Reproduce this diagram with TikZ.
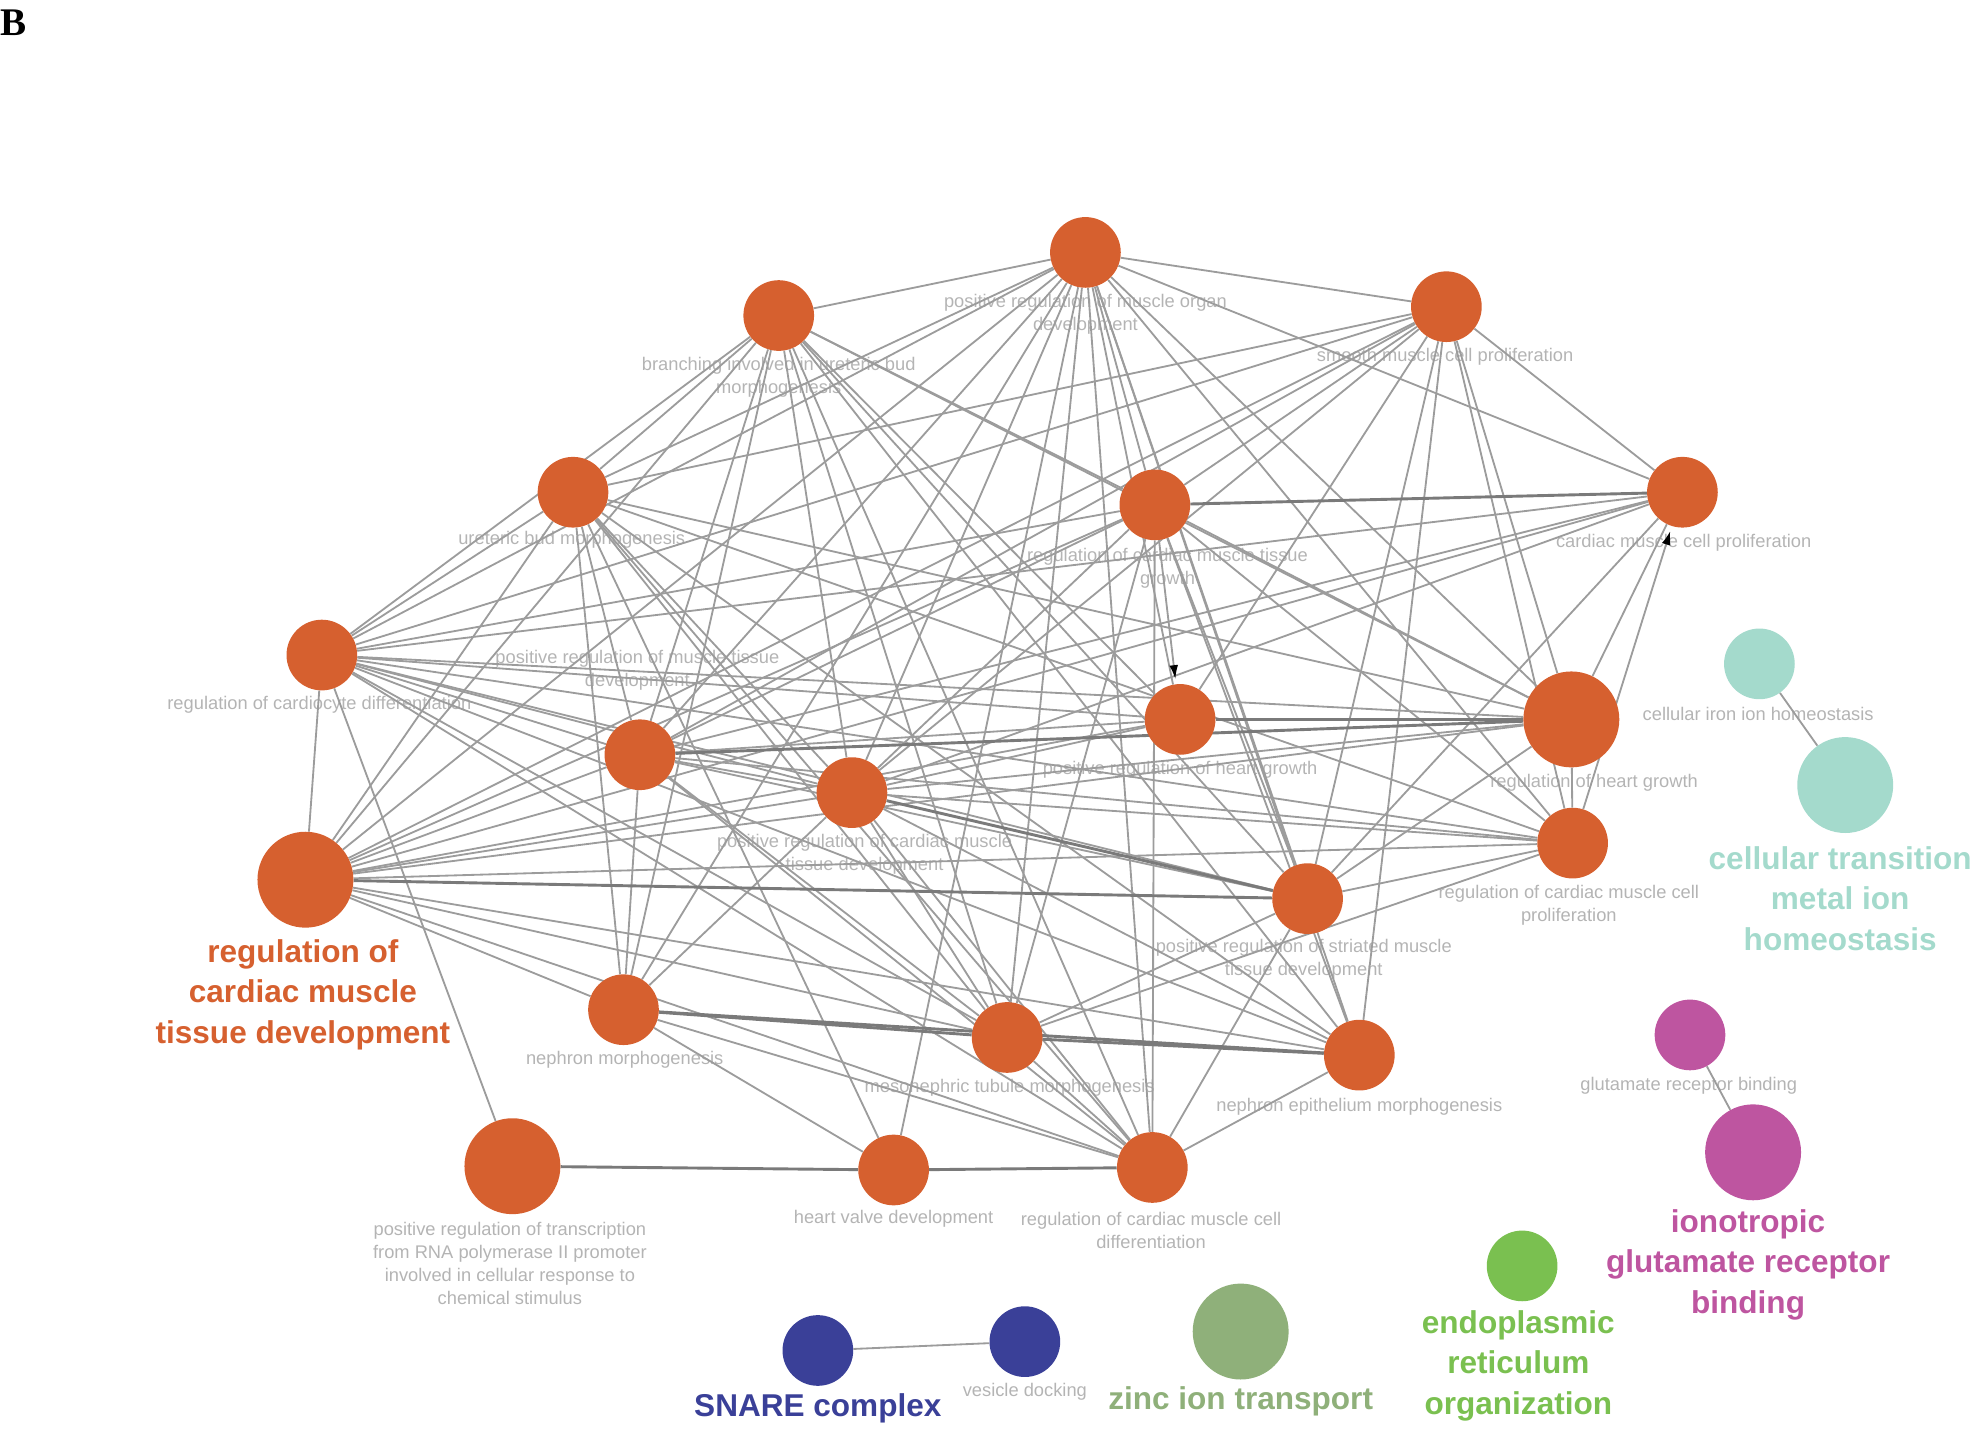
\documentclass[tikz,border=0pt]{standalone}
\usepackage{fontspec}
\setmainfont{Liberation Sans}
\newfontfamily\serifB{Liberation Serif}
\usetikzlibrary{arrows.meta}
\definecolor{orng}{HTML}{D6602F}
\definecolor{teal2}{HTML}{A4DACC}
\definecolor{mag}{HTML}{BE55A0}
\definecolor{grn}{HTML}{7AC050}
\definecolor{olv}{HTML}{8FB07A}
\definecolor{blu}{HTML}{3A4098}
\definecolor{labgray}{HTML}{B4B4B4}
\definecolor{edgegray}{HTML}{9C9C9C}
\definecolor{edgedark}{HTML}{7A7A7A}
\pgfdeclarelayer{lbl}
\pgfdeclarelayer{edg}
\pgfsetlayers{lbl,edg,main}
\tikzset{
  nd/.style={circle, inner sep=0pt, minimum size=56pt, fill=orng},
  ndl/.style={circle, inner sep=0pt, minimum size=76pt, fill=orng},
  lab/.style={text=labgray, font=\fontsize{14.5}{18}\selectfont, align=center, inner sep=0pt},
  big/.style={font=\bfseries\fontsize{25}{32}\selectfont, align=center, inner sep=0pt},
  ed/.style={draw=edgegray, line width=1.45pt},
  edd/.style={draw=edgedark, line width=2.3pt},
  arr/.style={draw=edgegray, line width=1.45pt, -{Latex[length=11pt,width=7pt,color=black]}, shorten >=4pt}
}
\begin{document}
\begin{tikzpicture}[x=1pt,y=-1pt]
\useasboundingbox (0,0) rectangle (1568,1132);
\node[font=\serifB\bfseries\fontsize{31}{31}\selectfont, anchor=west, inner sep=0pt] (fig) at (0,18) {B};

% orange cluster nodes
\node[nd] (a) at (860,200) {};
\node[nd] (b) at (617,250) {};
\node[nd] (c) at (1146,243) {};
\node[nd] (d) at (454,390) {};
\node[nd] (e) at (915,400) {};
\node[nd] (f) at (1333,390) {};
\node[nd] (g) at (255,519) {};
\node[nd] (h) at (507,598) {};
\node[nd] (i) at (675,628) {};
\node[nd] (j) at (935,570) {};
\node[ndl] (k) at (1245,570) {};
\node[nd] (l) at (1246,668) {};
\node[nd] (m) at (1036,712) {};
\node[ndl] (n) at (242,697) {};
\node[nd] (o) at (494,800) {};
\node[nd] (p) at (798,822) {};
\node[nd] (q) at (1077,836) {};
\node[ndl] (r) at (406,924) {};
\node[nd] (s) at (708,927) {};
\node[nd] (t) at (913,925) {};

% other groups
\node[nd, fill=teal2] (ta) at (1394,526) {};
\node[ndl, fill=teal2] (tb) at (1462,622) {};
\node[nd, fill=mag] (ma) at (1339,820) {};
\node[ndl, fill=mag] (mb) at (1389,913) {};
\node[nd, fill=grn] (en) at (1206,1003) {};
\node[ndl, fill=olv] (zn) at (983,1055) {};
\node[nd, fill=blu] (sn) at (648,1070) {};
\node[nd, fill=blu] (vd) at (812,1063) {};

\begin{pgfonlayer}{lbl}
\node[lab] (la) at (860,249) {positive regulation of muscle organ\\development};
\node[lab] (lb) at (617,299) {branching involved in ureteric bud\\morphogenesis};
\node[lab] (lc) at (1145,283) {smooth muscle cell proliferation};
\node[lab] (ld) at (453,428) {ureteric bud morphogenesis};
\node[lab] (le) at (925,450) {regulation of cardiac muscle tissue\\growth};
\node[lab] (lf) at (1334,430) {cardiac muscle cell proliferation};
\node[lab] (lg) at (253,558) {regulation of cardiocyte differentiation};
\node[lab] (lh) at (505,531) {positive regulation of muscle tissue\\development};
\node[lab] (lj) at (935,610) {positive regulation of heart growth};
\node[lab] (lk) at (1263,620) {regulation of heart growth};
\node[lab] (li) at (685,677) {positive regulation of cardiac muscle\\tissue development};
\node[lab] (ll) at (1243,717) {regulation of cardiac muscle cell\\proliferation};
\node[lab] (lm) at (1033,760) {positive regulation of striated muscle\\tissue development};
\node[lab] (lo) at (495,840) {nephron morphogenesis};
\node[lab] (lp) at (800,862) {mesonephric tubule morphogenesis};
\node[lab] (lq) at (1077,877) {nephron epithelium morphogenesis};
\node[lab] (lr) at (404,1001) {positive regulation of transcription\\from RNA polymerase II promoter\\involved in cellular response to\\chemical stimulus};
\node[lab] (ls) at (708,966) {heart valve development};
\node[lab] (lt) at (912,975) {regulation of cardiac muscle cell\\differentiation};
\node[lab] (lta) at (1393,566) {cellular iron ion homeostasis};
\node[lab] (lma) at (1338,860) {glutamate receptor binding};
\node[lab] (lvd) at (812,1103) {vesicle docking};
\end{pgfonlayer}

\begin{pgfonlayer}{edg}
\foreach \u/\v in {a/b,a/c,a/f,a/d,a/g,a/n,a/h,a/i,a/j,a/e,a/t,a/p,a/s,a/m,a/q,a/k,a/l,a/o,
  b/d,b/g,b/n,b/h,b/i,b/o,b/p,b/t,b/q,b/m,b/e,b/j,b/k,
  c/f,c/d,c/g,c/e,c/h,c/i,c/k,c/l,c/m,c/j,c/n,c/q,
  d/g,d/n,d/h,d/o,d/p,d/t,d/q,d/i,d/s,d/k,d/l,
  e/k,e/l,e/m,e/n,e/g,e/h,e/i,e/p,e/t,e/q,
  f/k,f/i,f/h,f/n,f/g,f/m,
  g/n,g/h,g/i,g/k,g/l,g/m,g/p,g/t,g/q,g/r,g/j,
  h/n,h/i,h/l,h/m,h/o,h/p,h/t,
  i/n,i/k,i/l,i/o,i/p,i/q,i/t,
  j/n,j/i,j/h,
  k/l,k/n,k/m,
  l/n,l/m,l/p,
  m/t,m/p,
  n/o,n/p,n/t,n/q,
  o/t,o/s,
  p/t,q/t,
  ta/tb,ma/mb,sn/vd}
  \draw[ed] (\u) -- (\v);
\foreach \u/\v in {o/q,o/p,p/q,r/s,s/t,i/m,h/k,e/f,n/m,j/k}
  \draw[edd] (\u) -- (\v);
\draw[arr] (e) -- (j);
\draw[arr] (l) -- (f);
\end{pgfonlayer}

% big labels
\node[big, text=orng] (ln) at (240,788) {regulation of\\cardiac muscle\\tissue development};
\node[big, text=teal2] (ltb) at (1458,712) {cellular transition\\metal ion\\homeostasis};
\node[big, text=mag] (lmb) at (1385,1002) {ionotropic\\glutamate receptor\\binding};
\node[big, text=grn] (len) at (1203,1082) {endoplasmic\\reticulum\\organization};
\node[big, text=olv] (lzn) at (983,1110) {zinc ion transport};
\node[big, text=blu] (lsn) at (648,1116) {SNARE complex};
\end{tikzpicture}
\end{document}
